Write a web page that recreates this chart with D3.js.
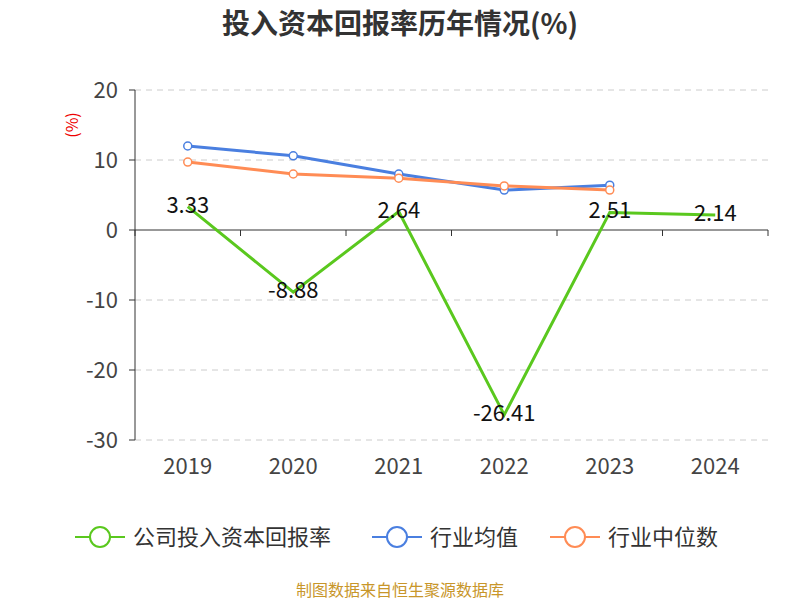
<!DOCTYPE html>
<html><head><meta charset="utf-8">
<script src="https://cdn.jsdelivr.net/npm/d3@7"></script>
<style>body{margin:0;background:#fff;font-family:"Noto Sans CJK SC","Noto Sans",sans-serif}</style>
</head><body>
<svg id="c" width="800" height="600"></svg>
<script>
const years=["2019","2020","2021","2022","2023","2024"];
const company=[3.33,-8.88,2.64,-26.41,2.51,2.14];
const industryAvg=[12.0,10.6,8.0,5.7,6.4];
const industryMedian=[9.7,8.0,7.4,6.3,5.7];
const yTicks=[20,10,0,-10,-20,-30];
const svg=d3.select("#c");
const x=d3.scaleBand().domain(years).range([135,768]);
const y=d3.scaleLinear().domain([-30,20]).range([440,90]);
const cx=d=>x(d)+x.bandwidth()/2;
svg.append("text").attr("x",400).attr("y",34).attr("text-anchor","middle").attr("font-size",28).attr("font-weight","bold").attr("fill","#333").text("投入资本回报率历年情况(%)");
yTicks.forEach(t=>{
 if(t!==0) svg.append("line").attr("x1",135).attr("x2",768).attr("y1",y(t)).attr("y2",y(t)).attr("stroke","#ccc").attr("stroke-dasharray","6,5");
 svg.append("text").attr("x",118).attr("y",y(t)+8).attr("text-anchor","end").attr("font-size",22).attr("fill","#444").text(t);
 svg.append("line").attr("x1",129).attr("x2",135).attr("y1",y(t)).attr("y2",y(t)).attr("stroke","#333");
});
svg.append("line").attr("x1",135).attr("x2",135).attr("y1",90).attr("y2",440).attr("stroke","#333");
svg.append("line").attr("x1",135).attr("x2",768).attr("y1",y(0)).attr("y2",y(0)).attr("stroke","#333");
years.forEach((d,i)=>{
 svg.append("line").attr("x1",x(d)).attr("x2",x(d)).attr("y1",y(0)).attr("y2",y(0)+6).attr("stroke","#333");
 svg.append("text").attr("x",cx(d)).attr("y",474).attr("text-anchor","middle").attr("font-size",22).attr("fill","#444").text(d);
});
svg.append("line").attr("x1",768).attr("x2",768).attr("y1",y(0)).attr("y2",y(0)+6).attr("stroke","#333");
svg.append("text").attr("transform","translate(78,125) rotate(-90)").attr("text-anchor","middle").attr("font-size",16).attr("fill","#e00").text("(%)");
const line=d3.line().x(d=>cx(d[0])).y(d=>y(d[1]));
function series(vals,color,markers){
 const pts=vals.map((v,i)=>[years[i],v]);
 svg.append("path").attr("d",line(pts)).attr("fill","none").attr("stroke",color).attr("stroke-width",3);
 if(markers) pts.forEach(p=>svg.append("circle").attr("cx",cx(p[0])).attr("cy",y(p[1])).attr("r",4).attr("fill","#fff").attr("stroke",color).attr("stroke-width",1.5));
}
series(industryAvg,"#4a7fe0",true);
series(industryMedian,"#ff8c55",true);
series(company,"#5ac81e",false);
company.forEach((v,i)=>svg.append("text").attr("x",cx(years[i])).attr("y",y(v)+6).attr("text-anchor","middle").attr("font-size",22).attr("fill","#111").text(v.toFixed(2)));
const leg=[["公司投入资本回报率","#5ac81e",75],["行业均值","#4a7fe0",372],["行业中位数","#ff8c55",550]];
leg.forEach(([t,c,lx])=>{
 svg.append("line").attr("x1",lx).attr("x2",lx+50).attr("y1",537).attr("y2",537).attr("stroke",c).attr("stroke-width",2);
 svg.append("circle").attr("cx",lx+25).attr("cy",537).attr("r",10).attr("fill","#fff").attr("stroke",c).attr("stroke-width",2);
 svg.append("text").attr("x",lx+58).attr("y",545).attr("font-size",22).attr("fill","#333").text(t);
});
svg.append("text").attr("x",400).attr("y",596).attr("text-anchor","middle").attr("font-size",16).attr("fill","#c8962a").text("制图数据来自恒生聚源数据库");
</script></body></html>
